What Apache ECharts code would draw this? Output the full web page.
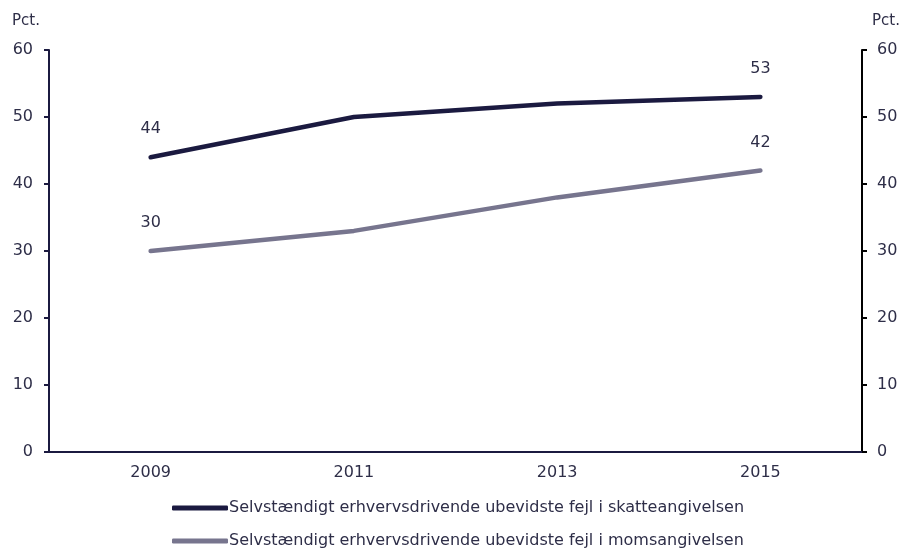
<!DOCTYPE html>
<html>
<head>
<meta charset="utf-8">
<script src="https://cdn.jsdelivr.net/npm/echarts@6/dist/echarts.min.js"></script>
<style>
html,body{margin:0;padding:0;background:#fff;}
#c{width:903px;height:552px;}
</style>
</head>
<body>
<div id="c"></div>
<script>
const categories = ['2009', '2011', '2013', '2015'];
const seriesNames = [
  'Selvstændigt erhvervsdrivende ubevidste fejl i skatteangivelsen',
  'Selvstændigt erhvervsdrivende ubevidste fejl i momsangivelsen'
];
const skatValues = [44, 50, 52, 53];
const momsValues = [30, 33, 38, 42];

const FONT = 'DejaVu Sans';
const TXT = '#2e2e48';
const NAVY = '#1b1a40';
const GREY = '#77758e';

function lbl() {
  return {
    show: true,
    position: 'top',
    distance: 20,
    fontSize: 16,
    fontFamily: FONT,
    color: TXT,
    formatter: p => (p.dataIndex === 0 || p.dataIndex === categories.length - 1) ? String(p.value) : ''
  };
}

function legendFor(name, top) {
  return {
    orient: 'horizontal',
    left: 172,
    top: top,
    padding: 0,
    itemWidth: 56,
    itemHeight: 5,
    icon: 'roundRect',
    textStyle: {fontSize: 16, fontFamily: FONT, color: TXT, padding: [0, 0, 0, -4]},
    data: [name]
  };
}

const chart = echarts.init(document.getElementById('c'));
chart.setOption({
  animation: false,
  textStyle: {fontFamily: FONT},
  grid: {left: 49, right: 41, top: 50, bottom: 100, containLabel: false},
  legend: [legendFor(seriesNames[0], 500), legendFor(seriesNames[1], 533)],
  xAxis: {
    type: 'category',
    data: categories,
    boundaryGap: true,
    axisLine: {lineStyle: {color: NAVY, width: 2}},
    axisTick: {show: false},
    axisLabel: {fontSize: 16, fontFamily: FONT, color: TXT, margin: 13},
    splitLine: {show: false}
  },
  yAxis: [
    {
      type: 'value', min: 0, max: 60, interval: 10, position: 'left',
      name: 'Pct.', nameLocation: 'end', nameGap: 21,
      nameTextStyle: {fontSize: 15, fontFamily: FONT, color: TXT, align: 'right', padding: [0, 9, 0, 0]},
      axisLine: {show: true, lineStyle: {color: NAVY, width: 2}},
      axisTick: {show: true, length: 5, lineStyle: {color: NAVY, width: 2}},
      axisLabel: {fontSize: 16, fontFamily: FONT, color: TXT, margin: 16},
      splitLine: {show: false}
    },
    {
      type: 'value', min: 0, max: 60, interval: 10, position: 'right',
      name: 'Pct.', nameLocation: 'end', nameGap: 21,
      nameTextStyle: {fontSize: 15, fontFamily: FONT, color: TXT, align: 'left', padding: [0, 0, 0, 10]},
      axisLine: {show: true, lineStyle: {color: '#000', width: 2}},
      axisTick: {show: true, length: 5, lineStyle: {color: '#000', width: 2}},
      axisLabel: {fontSize: 16, fontFamily: FONT, color: TXT, margin: 15},
      splitLine: {show: false}
    }
  ],
  series: [
    {
      name: seriesNames[0], type: 'line', data: skatValues,
      yAxisIndex: 0, showSymbol: true, symbol: 'circle', symbolSize: 0.1,
      lineStyle: {color: NAVY, width: 4.5, cap: 'round'},
      itemStyle: {color: NAVY},
      label: lbl()
    },
    {
      name: seriesNames[1], type: 'line', data: momsValues,
      yAxisIndex: 0, showSymbol: true, symbol: 'circle', symbolSize: 0.1,
      lineStyle: {color: GREY, width: 4.5, cap: 'round'},
      itemStyle: {color: GREY},
      label: lbl()
    }
  ]
});
</script>
</body>
</html>
